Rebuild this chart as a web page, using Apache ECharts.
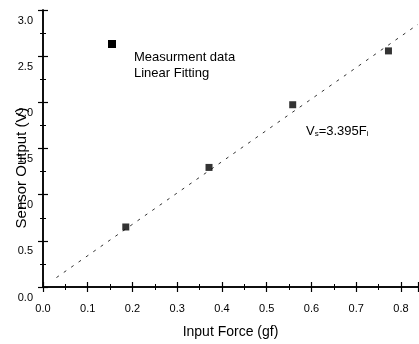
<!DOCTYPE html>
<html><head><meta charset="utf-8">
<script src="https://cdn.jsdelivr.net/npm/echarts@6/dist/echarts.min.js"></script>
<style>html,body{margin:0;padding:0;background:#fff}#c{width:419px;height:344px}</style>
</head><body><div id="c"></div>
<script>
var forceGf = [0.185, 0.371, 0.558, 0.772];
var outputV = [0.65, 1.295, 1.974, 2.557];
var fitF = [0.03, 0.838];
var fitV = [0.102, 2.845];
var xTitle = 'Input Force (gf)';
var yTitle = 'Sensor Output (V)';
var legendNames = ['Measurment data', 'Linear Fitting'];

var FONT = '"Liberation Sans", Arial, sans-serif';
var chart = echarts.init(document.getElementById('c'), null, {renderer: 'canvas'});
var axisCommon = {
  axisLine: {show: true, lineStyle: {color: '#000', width: 1.5}},
  axisTick: {show: true, inside: true, length: 5, lineStyle: {color: '#000', width: 1.2}},
  minorTick: {show: true, splitNumber: 2, length: 3, lineStyle: {color: '#000', width: 1}},
  splitLine: {show: false}
};
chart.setOption({
  animation: false,
  grid: {left: 43, right: 1, top: 10, bottom: 56},
  xAxis: [
    Object.assign({type: 'value', min: 0, max: 0.838, interval: 0.1, position: 'bottom',
      name: xTitle, nameLocation: 'middle', nameGap: 38,
      nameTextStyle: {fontFamily: FONT, fontSize: 14, color: '#000'},
      axisLabel: {fontFamily: FONT, fontSize: 11, color: '#000', margin: 16, showMaxLabel: false,
        formatter: function (v) { return v.toFixed(1); }}}, axisCommon),
    Object.assign({type: 'value', min: 0, max: 0.838, interval: 0.1, position: 'top',
      axisLabel: {show: false}}, axisCommon)
  ],
  yAxis: [
    Object.assign({type: 'value', min: 0, max: 3, interval: 0.5, position: 'left',
      axisLabel: {fontFamily: FONT, fontSize: 11, color: '#000', margin: 10,
        verticalAlign: 'top', padding: [5, 0, 0, 0],
        formatter: function (v) { return v.toFixed(1); }}}, axisCommon),
    Object.assign({type: 'value', min: 0, max: 3, interval: 0.5, position: 'right',
      axisLabel: {show: false}}, axisCommon)
  ],
  series: [
    {type: 'line', name: legendNames[1], data: fitF.map(function (f, i) { return [f, fitV[i]]; }),
      showSymbol: false, symbol: 'none', lineStyle: {color: '#333', width: 1, type: [3, 6]}, z: 1},
    {type: 'scatter', name: legendNames[0], data: forceGf.map(function (f, i) { return [f, outputV[i]]; }),
      symbol: 'rect', symbolSize: 7, itemStyle: {color: '#000'}, z: 3}
  ],
  graphic: [
    {type: 'rect', left: 108, top: 40, shape: {width: 8, height: 8}, style: {fill: '#000'}},
    {type: 'text', left: 134, top: 51, style: {text: legendNames[0], font: '13px ' + FONT, fill: '#000'}},
    {type: 'text', left: 134, top: 67, style: {text: legendNames[1], font: '13px ' + FONT, fill: '#000'}},
    {type: 'text', left: 306, top: 125, style: {
      text: 'V{s|s}=3.395F{s|i}', font: '13px ' + FONT, fill: '#000',
      rich: {s: {fontSize: 8, fontFamily: FONT, padding: [5, 0, 0, 0]}}}},
    {type: 'text', x: 22, y: 168, rotation: Math.PI / 2,
      style: {text: yTitle, font: '15px ' + FONT, fill: '#000', align: 'center', verticalAlign: 'middle'}}
  ]
});
</script></body></html>
